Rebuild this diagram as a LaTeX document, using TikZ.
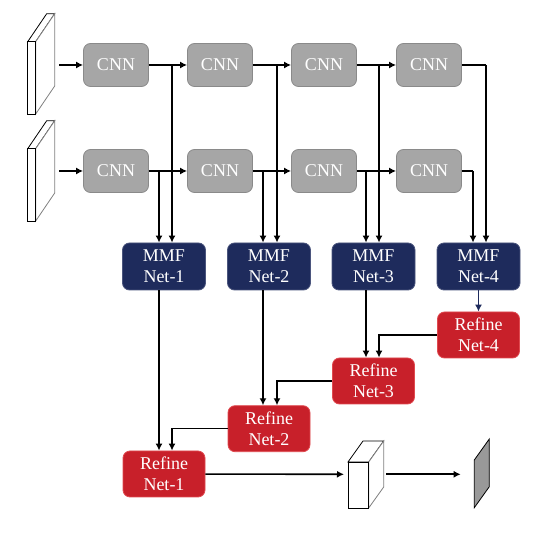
\documentclass[tikz,border=0pt]{standalone}
\usepackage{fontspec}
\setmainfont{Liberation Serif}
\usetikzlibrary{arrows.meta}
\definecolor{cnngris}{HTML}{A6A6A6}
\definecolor{cnnborde}{HTML}{8A8A8A}
\definecolor{marino}{HTML}{1E2B5C}
\definecolor{rojo}{HTML}{C8202A}
\definecolor{rojoborde}{HTML}{E04A50}
\begin{document}
\begin{tikzpicture}
  [x=1pt,y=-1pt,line width=1.6pt,>={Latex[length=7pt,width=7pt]},
   every node/.style={rounded corners=7pt,text=white,align=center,inner sep=0pt,
     font=\fontsize{18}{21}\selectfont},
   cnn/.style={fill=cnngris,draw=cnnborde,line width=0.8pt,minimum width=65pt,minimum height=43pt},
   mmf/.style={fill=marino,draw=marino!80!white,line width=0.8pt,minimum width=83pt,minimum height=47pt},
   refine/.style={fill=rojo,draw=rojoborde,line width=0.8pt,minimum width=82pt,minimum height=46pt}]
\useasboundingbox (0,0) rectangle (542,537);
  % Entradas (dos capas)
  \foreach \y in {0,107} {
    \draw[line width=0.8pt,fill=white] (27.7,41.7+\y) -- (46.7,13.7+\y) -- (54.7,13.7+\y) -- (35.7,41.7+\y) -- cycle;
    \draw[line width=0.8pt,gray,fill=white] (35.7,41.7+\y) -- (54.7,13.7+\y) -- (54.7,86+\y) -- (35.7,114+\y) -- cycle;
    \draw[line width=0.8pt,fill=white] (27.7,41.7+\y) rectangle (35.7,114+\y);
  }
  \coordinate (s1) at (59,65);
  \coordinate (s2) at (59,171);

  % Redes CNN
  \foreach \i/\x in {1/116,2/220,3/324,4/429} {
    \node[cnn] (a\i) at (\x,65)  {CNN};
    \node[cnn] (b\i) at (\x,171) {CNN};
  }

  % Bloques MMF y Refine
  \foreach \i/\x in {1/164,2/269,3/373.5,4/478.5}
    \node[mmf] (m\i) at (\x,266.5) {MMF\\Net-\i};
  \node[refine] (r1) at (164,474)   {Refine\\Net-1};
  \node[refine] (r2) at (269,428.7) {Refine\\Net-2};
  \node[refine] (r3) at (373.5,381) {Refine\\Net-3};
  \node[refine] (r4) at (478.5,335) {Refine\\Net-4};

  % Conexiones horizontales
  \draw[->] (s1) -- (a1);
  \draw[->] (s2) -- (b1);
  \foreach \from/\to in {a1/a2, a2/a3, a3/a4, b1/b2, b2/b3, b3/b4}
    \draw[->] (\from) -- (\to);

  % Bajadas hacia MMF
  \foreach \i/\xa/\xb in {1/172/159, 2/277/263, 3/379/366, 4/486/473} {
    \coordinate (ja\i) at (\xa,65);
    \coordinate (jb\i) at (\xb,171);
    \draw[->] (ja\i) -- (ja\i |- m\i.north);
    \draw[->] (jb\i) -- (jb\i |- m\i.north);
  }
  \draw (a4.east) -- (ja4);
  \draw (b4.east) -- (jb4);

  % MMF -> Refine
  \foreach \i in {1,2,3}
    \draw[->] (jb\i |- m\i.south) -- (jb\i |- r\i.north);
  \draw[->,marino] (m4) -- (r4);
  \foreach \from/\to in {r4/3, r3/2, r2/1}
    \draw[->] (\from.west) -| (ja\to |- r\to.north);

  % Salida
  \coordinate (cl) at (344,474.3);
  \coordinate (cr) at (386,474.3);
  \coordinate (ol) at (460.7,474.3);
  \draw[line width=0.8pt,fill=white] (348,462) -- (363,441) -- (383.7,441) -- (368.7,462) -- cycle;
  \draw[line width=0.8pt,gray,fill=white] (368.7,462) -- (383.7,441) -- (383.7,487) -- (368.7,508) -- cycle;
  \draw[line width=0.8pt,fill=white] (348,462) rectangle (368.7,508);
  \draw[line width=0.8pt,fill=gray!80] (474.3,460) -- (489.3,439) -- (489.3,486.7) -- (474.3,507.7) -- cycle;
  \draw[->] (r1) -- (cl);
  \draw[->] (cr) -- (ol);
\end{tikzpicture}
\end{document}
